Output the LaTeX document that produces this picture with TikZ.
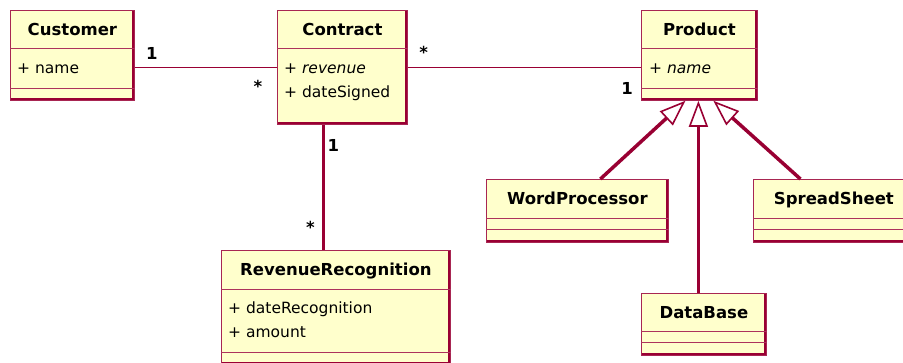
\documentclass[tikz,border=0pt]{standalone}
\usepackage{fontspec}
\setmainfont{DejaVu Sans}
\usetikzlibrary{arrows.meta}
\definecolor{umlred}{RGB}{153,0,51}
\definecolor{umlyellow}{RGB}{255,255,204}
\tikzset{
	classbox/.style={draw=umlred!85, fill=umlyellow, line width=0.8pt, inner sep=0pt, anchor=north west,
		path picture={\draw[umlred, line width=5pt] (path picture bounding box.north east) -- (path picture bounding box.south east) -- (path picture bounding box.south west);}},
	classname/.style={anchor=base, inner sep=0pt, font=\bfseries\fontsize{16.5}{18}\selectfont},
	attr/.style={anchor=base west, inner sep=0pt, font=\fontsize{15.5}{18}\selectfont},
	compart/.style={draw=umlred!80, line width=0.8pt},
	assoc/.style={draw=umlred, line width=1pt},
	mult/.style={inner sep=0pt, font=\bfseries\fontsize{16.5}{18}\selectfont},
	inherit/.style={draw=umlred, line width=3.5pt, -{Triangle[open, length=26pt, width=19pt, line width=1.6pt]}}
}
\begin{document}
\begin{tikzpicture}[x=1pt, y=-1pt]
	\useasboundingbox (0,0) rectangle (903,363);
	\fill[white] (0,0) rectangle (903,363);

	% Customer
	\node[classbox, minimum width=124pt, minimum height=90pt] (customer) at (10,10) {};
	\node[classname] (customer-name) at ([yshift=-26pt]customer.north) {Customer};
	\node[attr] (customer-attr) at ([xshift=7pt, yshift=-64pt]customer.north west) {+ name};
	\draw[compart]
	([yshift=-38pt]customer.north west) -- ([yshift=-38pt]customer.north east)
	([yshift=-78pt]customer.north west) -- ([yshift=-78pt]customer.north east);

	% Contract
	\node[classbox, minimum width=130pt, minimum height=114pt] (contract) at (277,10) {};
	\node[classname] (contract-name) at ([yshift=-26pt]contract.north) {Contract};
	\node[attr] (contract-attr1) at ([xshift=7pt, yshift=-64pt]contract.north west) {+ \textit{revenue}};
	\node[attr] (contract-attr2) at ([xshift=7pt, yshift=-88pt]contract.north west) {+ dateSigned};
	\draw[compart] ([yshift=-38pt]contract.north west) -- ([yshift=-38pt]contract.north east);

	% Product
	\node[classbox, minimum width=116pt, minimum height=90pt] (product) at (641,10) {};
	\node[classname] (product-name) at ([yshift=-26pt]product.north) {Product};
	\node[attr] (product-attr) at ([xshift=8pt, yshift=-64pt]product.north west) {+ \textit{name}};
	\draw[compart]
	([yshift=-38pt]product.north west) -- ([yshift=-38pt]product.north east)
	([yshift=-78pt]product.north west) -- ([yshift=-78pt]product.north east);

	% RevenueRecognition
	\node[classbox, minimum width=229pt, minimum height=114pt] (revrec) at (221,250) {};
	\node[classname] (revrec-name) at ([yshift=-26pt]revrec.north) {RevenueRecognition};
	\node[attr] (revrec-attr1) at ([xshift=7pt, yshift=-64pt]revrec.north west) {+ dateRecognition};
	\node[attr] (revrec-attr2) at ([xshift=7pt, yshift=-88pt]revrec.north west) {+ amount};
	\draw[compart]
	([yshift=-39pt]revrec.north west) -- ([yshift=-39pt]revrec.north east)
	([yshift=-102pt]revrec.north west) -- ([yshift=-102pt]revrec.north east);

	% subclasses of Product
	\node[classbox, minimum width=182pt, minimum height=63pt] (word) at (486,179) {};
	\node[classname] (word-name) at ([yshift=-26pt]word.north) {WordProcessor};
	\draw[compart]
	([yshift=-39pt]word.north west) -- ([yshift=-39pt]word.north east)
	([yshift=-50pt]word.north west) -- ([yshift=-50pt]word.north east);

	\node[classbox, minimum width=170pt, minimum height=63pt] (spread) at (753,179) {};
	\node[classname, xshift=-4.5pt] (spread-name) at ([yshift=-26pt]spread.north) {SpreadSheet};
	\draw[compart]
	([yshift=-39pt]spread.north west) -- ([yshift=-39pt]spread.north east)
	([yshift=-50pt]spread.north west) -- ([yshift=-50pt]spread.north east);

	\node[classbox, minimum width=125pt, minimum height=62pt] (database) at (641,293) {};
	\node[classname] (database-name) at ([yshift=-26pt]database.north) {DataBase};
	\draw[compart]
	([yshift=-38pt]database.north west) -- ([yshift=-38pt]database.north east)
	([yshift=-49pt]database.north west) -- ([yshift=-49pt]database.north east);

	% associations
	\draw[assoc] ([yshift=-58pt]customer.north east) -- ([yshift=-58pt]contract.north west)
	node[mult, pos=0, xshift=17pt, yshift=15pt] (customer-mult) {1}
	node[mult, pos=1, xshift=-19pt, yshift=-18pt] (contract-mult1) {*};
	\draw[assoc] ([yshift=-58pt]contract.north east) -- ([yshift=-58pt]product.north west)
	node[mult, pos=0, xshift=16pt, yshift=16pt] (contract-mult2) {*}
	node[mult, pos=1, xshift=-14pt, yshift=-20pt] (product-mult) {1};
	\draw[assoc, line width=3.5pt] ([xshift=-19pt]contract.south) -- ([xshift=-12.5pt]revrec.north)
	node[mult, pos=0, xshift=10pt, yshift=-21pt] (contract-mult3) {1}
	node[mult, pos=1, xshift=-13pt, yshift=23pt] (revrec-mult) {*};

	% generalisations
	\draw[inherit] ([xshift=23pt]word.north) -- ([xshift=-14pt]product.south);
	\draw[inherit] ([xshift=-5.5pt]database.north) -- ([xshift=-1pt]product.south);
	\draw[inherit] ([xshift=-38pt]spread.north) -- ([xshift=14pt]product.south);
\end{tikzpicture}
\end{document}
